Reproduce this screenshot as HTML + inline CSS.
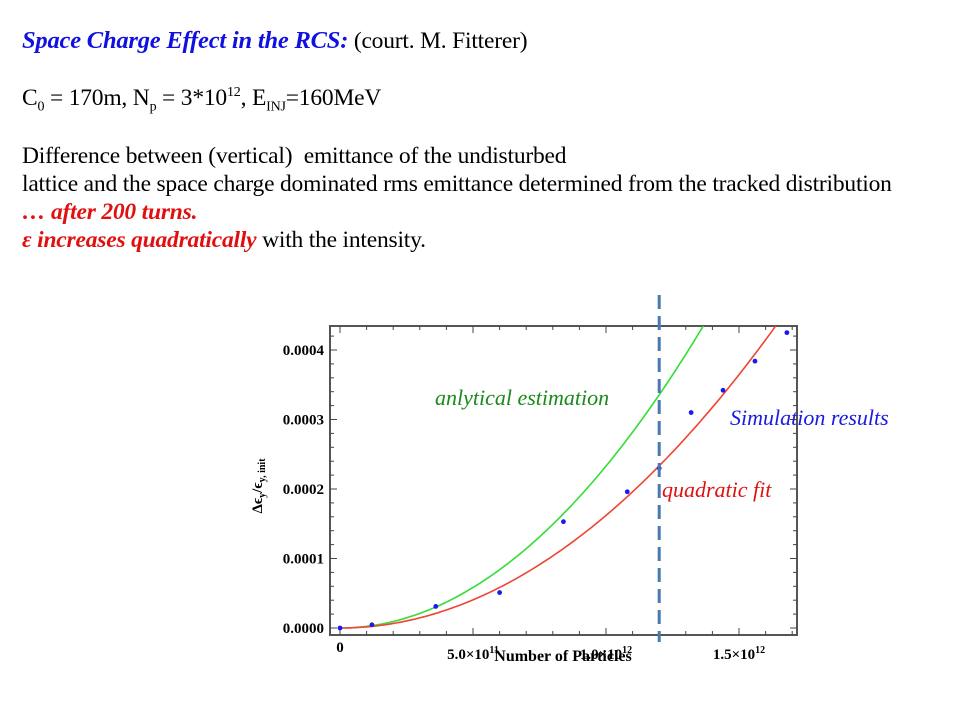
<!DOCTYPE html>
<html><head><meta charset="utf-8"><style>
body{margin:0;background:#fff;width:960px;height:720px;overflow:hidden;font-family:"Liberation Serif",serif}
.t{position:absolute;left:22px;font-size:23.5px;color:#000;white-space:nowrap;letter-spacing:-0.2px}
</style></head><body>
<div class="t" style="top:27px"><b style="color:#1010e0;font-style:italic;font-size:24.5px">Space Charge Effect in the RCS:</b> (court. M. Fitterer)</div>
<div class="t" style="top:85px">C<sub style="font-size:14px">0</sub> = 170m, N<sub style="font-size:14px">p</sub> = 3*10<sup style="font-size:14px">12</sup>, E<sub style="font-size:14px">INJ</sub>=160MeV</div>
<div class="t" style="top:143px">Difference between (vertical)&nbsp; emittance of the undisturbed</div>
<div class="t" style="top:171px">lattice and the space charge dominated rms emittance determined from the tracked distribution</div>
<div class="t" style="top:199px;color:#e01010;font-weight:bold;font-style:italic">… after 200 turns.</div>
<div class="t" style="top:227px"><b style="color:#e01010;font-style:italic">ε increases quadratically</b> with the intensity.</div>
<svg id="chart" width="960" height="720" style="position:absolute;left:0;top:0"></svg>
<script>
const xs=[0,0.12,0.36,0.60,0.84,1.08,1.20,1.32,1.44,1.56,1.68];
const ys=[0,0.0000046,0.000031,0.000051,0.000153,0.000196,0.00023,0.00031,0.000342,0.000384,0.000425];
const yTicks=[0,0.0001,0.0002,0.0003,0.0004];
const yTickLabels=["0.0000","0.0001","0.0002","0.0003","0.0004"];
const xTicks=[0,0.5,1.0,1.5];
const fitCoefRed=[1.62e-4];
const fitCoefGreen=[2.33e-4];
const cutX=[1.2];
const NS="http://www.w3.org/2000/svg";
const svg=document.getElementById('chart');
const L=330,R=797,T=326,B=635;
const X=v=>340+v*266, Y=v=>628-v*695000;
function mk(tag,a,p){const e=document.createElementNS(NS,tag);for(const k in a)e.setAttribute(k,a[k]);(p||svg).appendChild(e);return e;}
const fr=mk('rect',{x:L,y:T,width:R-L,height:B-T,fill:'none',stroke:'#555','stroke-width':2});


for(let v=0;v<=1.75;v+=0.1){const x=X(v);if(x>R)break;const maj=Math.abs(v*2-Math.round(v*2))<1e-6;const l=maj?7:4;
mk('line',{x1:x,y1:B,x2:x,y2:B-l,stroke:'#444'});mk('line',{x1:x,y1:T,x2:x,y2:T+l,stroke:'#444'});}
for(let v=0;v<=0.00045;v+=0.00002){const y=Y(v);if(y<T)break;const maj=Math.abs(v*1e4-Math.round(v*1e4))<1e-6;const l=maj?7:4;
mk('line',{x1:L,y1:y,x2:L+l,y2:y,stroke:'#444'});mk('line',{x1:R,y1:y,x2:R-l,y2:y,stroke:'#444'});}
yTicks.forEach((v,i)=>{const t=mk('text',{x:324,y:Y(v)+5,'text-anchor':'end','font-family':'Liberation Serif','font-weight':'bold','font-size':15});t.textContent=yTickLabels[i];

});
xTicks.forEach(v=>{const t=mk('text',{x:X(v),y:v===0?628+0:659,'text-anchor':'middle','font-family':'Liberation Serif','font-weight':'bold','font-size':15});
if(v===0){t.setAttribute('y',652);t.textContent='0';}else{t.textContent=(v<1?'5.0':v.toFixed(1))+'×10';const s=mk('tspan',{dy:-6,'font-size':10},t);s.textContent=v<1?'11':'12';}

});
const xt=mk('text',{x:563,y:662+0,'text-anchor':'middle','font-family':'Liberation Serif','font-weight':'bold','font-size':16});xt.setAttribute('y',661);xt.textContent='Number of Particles';


const yt=mk('text',{x:0,y:0,'text-anchor':'middle','font-family':'Liberation Serif','font-weight':'bold','font-size':15,transform:'translate(262,486) rotate(-90)'});yt.textContent='Δϵ';
const s1=mk('tspan',{'font-size':10,dy:3},yt);s1.textContent='y';const s2=mk('tspan',{dy:-3},yt);s2.textContent='/ϵ';const s3=mk('tspan',{'font-size':10,dy:3},yt);s3.textContent='y, init';


const cp=mk('clipPath',{id:'cp'});mk('rect',{x:L,y:T,width:R-L,height:B-T},cp);
function curve(a,col,name){let d='';for(let i=0;i<=100;i++){const v=i*1.75/100;d+=(i?'L':'M')+X(v).toFixed(1)+','+Y(a*v*v).toFixed(1);}
const p=mk('path',{d:d,fill:'none',stroke:col,'stroke-width':1.6,'clip-path':'url(#cp)'});}
curve(fitCoefGreen[0],'#33dd33','analytical-curve');
curve(fitCoefRed[0],'#ee4433','quadratic-fit-curve');
xs.forEach((v,i)=>{const c=mk('circle',{cx:X(v),cy:Y(ys[i]),r:2.4,fill:'#1a1aee'});

});
const vl=mk('line',{x1:X(cutX[0]),y1:295,x2:X(cutX[0]),y2:642,stroke:'#4a78b0','stroke-width':3,'stroke-dasharray':'14,7'});


function lab(x,y,txt,col,name){const t=mk('text',{x:x,y:y,'font-family':'Liberation Serif','font-style':'italic','font-size':22,fill:col});t.textContent=txt;
}
lab(435,405,'anlytical estimation','#1a8a1a','analytical-label');
lab(730,425,'Simulation results','#1a1ae0','simulation-label');
lab(662,497,'quadratic fit','#e01010','quadratic-fit-label');
</script>
</body></html>
